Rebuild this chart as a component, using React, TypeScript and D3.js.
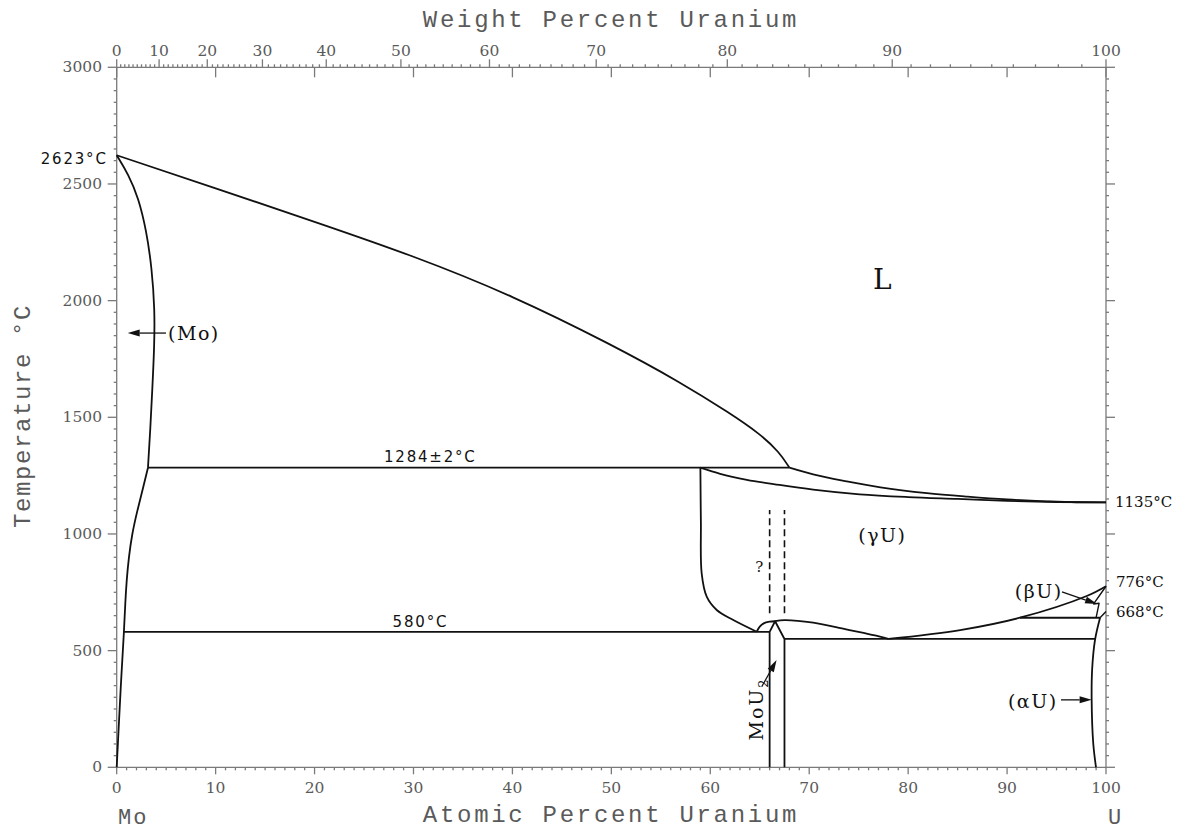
import React from 'react';
import * as d3 from 'd3';

// ---------- data (atomic % U, °C) ----------
const atomicTickLabels = [0, 10, 20, 30, 40, 50, 60, 70, 80, 90, 100];
const weightTickLabels = [0, 10, 20, 30, 40, 50, 60, 70, 80, 90, 100];
const tempTickLabels = [0, 500, 1000, 1500, 2000, 2500, 3000];

const liquidusMo = [[0, 2623], [10, 2482], [20, 2338], [30, 2192], [40, 2022], [50, 1812], [57, 1650], [62, 1517], [65, 1430], [67, 1350], [68.0, 1284]];
const liquidusU = [[68.0, 1284], [70.4, 1255], [73.8, 1225], [77.2, 1200], [81.9, 1175], [86, 1160], [90, 1148], [94, 1140], [97, 1136], [100, 1135]];
const solidusU = [[59.0, 1284], [61.0, 1258], [63.7, 1232], [67.0, 1210], [70.4, 1190], [75.1, 1170], [80.0, 1158], [85.0, 1150], [90.0, 1142], [95.0, 1137], [100, 1135]];
const solidusMo = [[0, 2623], [1.2, 2540], [2.2, 2440], [3.0, 2300], [3.55, 2140], [3.85, 1960], [3.8, 1800], [3.6, 1620], [3.4, 1450], [3.16, 1284]];
const solvusMo = [[3.16, 1284], [2.68, 1200], [2.08, 1100], [1.55, 1000], [1.22, 900], [1.0, 800], [0.86, 700], [0.74, 580], [0.45, 380], [0.2, 170], [0, 0]];
const gammaLeft = [[59.0, 1284], [59.05, 1050], [59.13, 831], [59.64, 731], [60.65, 674], [62.33, 631], [64.69, 581]];
const gammaDome = [[64.69, 581], [65.0, 603], [65.4, 617], [66.0, 624], [66.55, 626]];
const gammaLower = [[66.55, 626], [67.5, 631], [70.4, 620], [73.73, 591], [77.15, 560], [78.0, 550]];
const gammaBeta = [[78.0, 550], [85.26, 588], [91.3, 641], [98.05, 734], [100, 776]];
const moU2 = [[66.0, 0], [66.0, 580], [66.55, 626], [67.5, 550], [67.5, 0]];
const iso1284 = [[3.16, 1284], [68.0, 1284]];
const iso580 = [[0.74, 580], [66.0, 580]];
const iso550 = [[67.5, 550], [98.89, 550]];
const iso641 = [[91.3, 641], [99.4, 641]];
const betaLeft = [[100, 776], [98.75, 700], [99.3, 703], [99.0, 641]];
const betaRight = [[100, 668], [99.4, 641]];
const alphaSolvus = [[99.4, 641], [98.89, 546], [98.6, 420], [98.55, 288], [98.71, 103], [98.99, 0]];
const dashedLines = [[[66.0, 660], [66.0, 1103]], [[67.5, 660], [67.5, 1103]]];

const MO = 95.95;
const U = 238.03;
const wtToAt = (w: number) => ((w / U) / (w / U + (100 - w) / MO)) * 100;

const x = d3.scaleLinear().domain([0, 100]).range([116.7, 1106]);
const y = d3.scaleLinear().domain([0, 3000]).range([767.3, 67.3]);

const smooth = d3.line<number[]>().x(d => x(d[0])).y(d => y(d[1])).curve(d3.curveCatmullRom.alpha(0.5));
const basis = d3.line<number[]>().x(d => x(d[0])).y(d => y(d[1])).curve(d3.curveBasis);
const monoX = d3.line<number[]>().x(d => x(d[0])).y(d => y(d[1])).curve(d3.curveMonotoneX);
const straight = d3.line<number[]>().x(d => x(d[0])).y(d => y(d[1]));

const AXIS = '#7a7a7a';
const TXT = '#5a5a5a';
const INK = '#111';
const serif = "'DejaVu Serif', serif";
const sans = "'DejaVu Sans', sans-serif";
const mono = "'Liberation Mono', monospace";

function Arrow({ from, to }: { from: number[]; to: number[] }) {
  const x1 = x(from[0]), y1 = y(from[1]), x2 = x(to[0]), y2 = y(to[1]);
  const a = Math.atan2(y2 - y1, x2 - x1);
  const L = 12, w = 3.5;
  const bx = x2 - L * Math.cos(a), by = y2 - L * Math.sin(a);
  const p1 = [bx + w * Math.sin(a), by - w * Math.cos(a)];
  const p2 = [bx - w * Math.sin(a), by + w * Math.cos(a)];
  return (
    <g>
      <line x1={x1} y1={y1} x2={bx} y2={by} stroke={INK} strokeWidth={1.3} />
      <polygon points={`${x2},${y2} ${p1[0]},${p1[1]} ${p2[0]},${p2[1]}`} fill={INK} />
    </g>
  );
}

export default function App() {
  const minorAt = d3.range(0, 101, 1);
  const minorT = d3.range(0, 3001, 50);
  const minorWt = d3.range(0, 101, 1);
  const x0 = x(0), x1 = x(100), y0 = y(0), y1 = y(3000);
  return (
    <svg width={1180} height={831} style={{ position: 'absolute', left: 0, top: 0, background: '#fff' }}>
      {/* frame */}
      <g stroke={AXIS} strokeWidth={1.3} fill="none">
        <line x1={x0} y1={y0} x2={x1} y2={y0} />
        <line x1={x0} y1={y1} x2={x1} y2={y1} />
        <line x1={x0} y1={y0} x2={x0} y2={y1} />
        <line x1={x1} y1={y0} x2={x1} y2={y1} />
        {minorAt.map(v => (
          <line key={'b' + v} x1={x(v)} x2={x(v)} y1={y0} y2={y0 + (v % 10 === 0 ? 7 : 3)} />
        ))}
        {atomicTickLabels.map(v => (
          <line key={'ti' + v} x1={x(v)} x2={x(v)} y1={y1} y2={y1 + 10} />
        ))}
        {minorWt.map(v => (
          <line key={'tw' + v} x1={x(wtToAt(v))} x2={x(wtToAt(v))} y1={y1} y2={y1 - (v % 10 === 0 ? 8 : 3)} />
        ))}
        {minorT.map(v => (
          <g key={'lt' + v}>
            <line x1={x0} x2={x0 - (v % 500 === 0 ? 9 : 3)} y1={y(v)} y2={y(v)} />
            <line x1={x1} x2={x1 + (v % 500 === 0 ? 9 : 3)} y1={y(v)} y2={y(v)} />
          </g>
        ))}
      </g>

      {/* tick labels */}
      <g fill={TXT} fontFamily={serif} fontSize={15.5}>
        {atomicTickLabels.map(v => (
          <text key={'bl' + v} x={x(v)} y={793} textAnchor="middle">{v}</text>
        ))}
        {weightTickLabels.map(v => (
          <text key={'wl' + v} x={x(wtToAt(v))} y={56} textAnchor="middle">{v}</text>
        ))}
        {tempTickLabels.map(v => (
          <text key={'tl' + v} x={102} y={y(v)} textAnchor="end" dominantBaseline="central">{v}</text>
        ))}
      </g>

      {/* axis titles */}
      <g fill={TXT} fontFamily={mono} fontSize={24}>
        <text x={611} y={27} textAnchor="middle" letterSpacing={2.7}>Weight Percent Uranium</text>
        <text x={611} y={822} textAnchor="middle" letterSpacing={2.7}>Atomic Percent Uranium</text>
        <text transform="translate(30,416) rotate(-90)" textAnchor="middle" letterSpacing={1.6}>Temperature °C</text>
        <text x={118} y={824} fontSize={22} letterSpacing={2}>Mo</text>
        <text x={1108} y={824} fontSize={22}>U</text>
      </g>

      {/* phase boundaries */}
      <g stroke={INK} strokeWidth={1.8} fill="none" strokeLinejoin="round">
        <path d={basis(liquidusMo) || ''} />
        <path d={monoX(liquidusU) || ''} />
        <path d={monoX(solidusU) || ''} />
        <path d={basis(solidusMo) || ''} />
        <path d={basis(solvusMo) || ''} />
        <path d={smooth(gammaLeft) || ''} />
        <path d={smooth(gammaDome) || ''} />
        <path d={smooth(gammaLower) || ''} />
        <path d={smooth(gammaBeta) || ''} />
        <path d={straight(moU2) || ''} />
        <path d={straight(iso1284) || ''} />
        <path d={straight(iso580) || ''} />
        <path d={straight(iso550) || ''} />
        <path d={straight(iso641) || ''} />
        <path d={straight(betaLeft) || ''} strokeWidth={1.4} />
        <path d={straight(betaRight) || ''} strokeWidth={1.4} />
        <path d={smooth(alphaSolvus) || ''} />
        {dashedLines.map((d, i) => (
          <path key={'d' + i} d={straight(d) || ''} strokeDasharray="7,4" strokeWidth={1.6} />
        ))}
      </g>

      {/* arrows */}
      <Arrow from={[4.98, 1861]} to={[1.11, 1861]} />
      <Arrow from={[95.45, 289]} to={[98.55, 289]} />
      <Arrow from={[95.55, 752]} to={[99.1, 700]} />
      <Arrow from={[65.2, 345]} to={[66.7, 460]} />

      {/* labels */}
      <g fill={INK} fontFamily={sans} fontSize={15} letterSpacing={1.8}>
        <text x={x(0) - 9} y={y(2623) + 4} textAnchor="end" dominantBaseline="central">2623°C</text>
        <text x={x(31.7)} y={y(1284) - 6} textAnchor="middle">1284±2°C</text>
        <text x={x(30.7)} y={y(580) - 5} textAnchor="middle">580°C</text>
      </g>
      <g fill={INK} fontFamily={serif} fontSize={15}>
        <text x={x(100) + 9} y={y(1135)} dominantBaseline="central">1135°C</text>
        <text x={x(100) + 10} y={y(776) - 4} dominantBaseline="central">776°C</text>
        <text x={x(100) + 10} y={y(668) + 1} dominantBaseline="central">668°C</text>
        <text x={x(64.95)} y={572} textAnchor="middle" fontSize={15}>?</text>
      </g>
      <g fill={INK} fontFamily={serif} fontSize={19} letterSpacing={1.5}>
        <text x={x(5.19)} y={y(1861)} dominantBaseline="central">(Mo)</text>
        <text x={x(77.4)} y={y(996)} textAnchor="middle" dominantBaseline="central">(γU)</text>
        <text x={x(93.2)} y={y(757)} textAnchor="middle" dominantBaseline="central">(βU)</text>
        <text x={x(92.6)} y={y(284)} textAnchor="middle" dominantBaseline="central">(αU)</text>
        <text x={x(77.4)} y={y(2092)} textAnchor="middle" dominantBaseline="central" fontSize={28} letterSpacing={0}>L</text>
        <text transform={`translate(${x(65.32)},${y(250)}) rotate(-90)`} textAnchor="middle" fontSize={19} letterSpacing={2}>
          MoU<tspan dy={5} fontSize={13}>2</tspan>
        </text>
      </g>
    </svg>
  );
}
